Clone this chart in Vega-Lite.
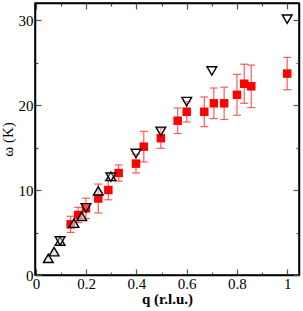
{
  "$schema": "https://vega.github.io/schema/vega-lite/v6.json",
  "autosize": "none",
  "width": 264,
  "height": 272,
  "padding": {"left": 35, "top": 3, "right": 4, "bottom": 36},
  "background": "white",
  "config": {
    "view": {"stroke": "black", "strokeWidth": 1.5},
    "axis": {
      "labelFont": "Liberation Serif",
      "titleFont": "Liberation Serif",
      "labelFontSize": 15,
      "titleFontSize": 15,
      "labelColor": "black",
      "titleColor": "black",
      "domainColor": "black",
      "domainWidth": 1.5,
      "tickColor": "#555",
      "tickWidth": 1.2,
      "grid": false
    }
  },
  "datasets": {
    "squares": [
      {"q": 0.138, "w": 5.96, "err": 0.95},
      {"q": 0.168, "w": 7.06, "err": 0.9},
      {"q": 0.199, "w": 7.84, "err": 1.2},
      {"q": 0.248, "w": 9.0, "err": 1.7},
      {"q": 0.288, "w": 10.0, "err": 1.15},
      {"q": 0.329, "w": 12.0, "err": 0.95},
      {"q": 0.398, "w": 13.1, "err": 1.1},
      {"q": 0.429, "w": 15.1, "err": 1.8},
      {"q": 0.497, "w": 16.1, "err": 1.2},
      {"q": 0.564, "w": 18.15, "err": 1.5},
      {"q": 0.6, "w": 19.2, "err": 1.2},
      {"q": 0.67, "w": 19.2, "err": 1.75},
      {"q": 0.708, "w": 20.2, "err": 1.8},
      {"q": 0.749, "w": 20.2, "err": 1.9},
      {"q": 0.8, "w": 21.2, "err": 2.4},
      {"q": 0.829, "w": 22.5, "err": 2.3},
      {"q": 0.857, "w": 22.2, "err": 2.5},
      {"q": 1.0, "w": 23.7, "err": 1.9}
    ],
    "up": [
      {"q": 0.049, "w": 1.96},
      {"q": 0.072, "w": 2.75},
      {"q": 0.096, "w": 4.0},
      {"q": 0.151, "w": 6.1},
      {"q": 0.182, "w": 6.9},
      {"q": 0.248, "w": 9.9},
      {"q": 0.298, "w": 11.6}
    ],
    "down": [
      {"q": 0.096, "w": 4.0},
      {"q": 0.199, "w": 7.9},
      {"q": 0.298, "w": 11.5},
      {"q": 0.398, "w": 14.3},
      {"q": 0.497, "w": 16.9},
      {"q": 0.6, "w": 20.4},
      {"q": 0.7, "w": 24.0},
      {"q": 1.0, "w": 30.1}
    ]
  },
  "resolve": {"axis": {"x": "independent", "y": "independent"}},
  "layer": [
    {
      "data": {"name": "squares"},
      "mark": {"type": "errorbar", "ticks": {"size": 8}, "color": "#ff4040", "opacity": 0.85, "thickness": 1.2},
      "encoding": {
        "x": {
          "field": "q", "type": "quantitative",
          "scale": {"domain": [-0.004, 1.047], "nice": false, "zero": false},
          "axis": {
            "orient": "bottom",
            "title": "q (r.l.u.)",
            "titleFontWeight": "bold",
            "titlePadding": 0,
            "values": [0, 0.1, 0.2, 0.3, 0.4, 0.5, 0.6, 0.7, 0.8, 0.9, 1.0],
            "format": "~g",
            "labelExpr": "round(datum.value*10) % 2 == 0 ? datum.label : ''",
            "labelFlush": false,
            "labelPadding": 7,
            "tickSize": {"condition": {"test": "round(datum.value*10) % 2 == 0", "value": -6}, "value": -3}
          }
        },
        "y": {
          "field": "w", "type": "quantitative",
          "scale": {"domain": [0, 32], "nice": false},
          "axis": {
            "orient": "left",
            "title": "ω (K)",
            "titleFontWeight": "normal",
            "titlePadding": 3,
            "values": [0, 5, 10, 15, 20, 25, 30],
            "labelExpr": "datum.value % 10 == 0 ? datum.label : ''",
            "labelFlush": false,
            "labelPadding": 8,
            "tickSize": {"condition": {"test": "datum.value % 10 == 0", "value": -6}, "value": -3}
          }
        },
        "yError": {"field": "err"}
      }
    },
    {
      "data": {"name": "squares"},
      "mark": {"type": "point", "shape": "square", "filled": true, "color": "#ff0000", "opacity": 1, "size": 72},
      "encoding": {
        "x": {"field": "q", "type": "quantitative", "scale": {"domain": [-0.004, 1.047], "nice": false, "zero": false}, "axis": null},
        "y": {"field": "w", "type": "quantitative", "scale": {"domain": [0, 32], "nice": false}, "axis": null}
      }
    },
    {
      "data": {"name": "up"},
      "mark": {"type": "point", "shape": "triangle-up", "filled": false, "fill": "#d8d8d8", "fillOpacity": 0.6, "stroke": "black", "strokeWidth": 1.4, "opacity": 1, "size": 95},
      "encoding": {
        "x": {"field": "q", "type": "quantitative", "scale": {"domain": [-0.004, 1.047], "nice": false, "zero": false}, "axis": null},
        "y": {"field": "w", "type": "quantitative", "scale": {"domain": [0, 32], "nice": false}, "axis": null}
      }
    },
    {
      "data": {"name": "down"},
      "mark": {"type": "point", "shape": "triangle-down", "filled": false, "fill": "white", "fillOpacity": 0.3, "stroke": "black", "strokeWidth": 1.4, "opacity": 1, "size": 95},
      "encoding": {
        "x": {
          "field": "q", "type": "quantitative",
          "scale": {"domain": [-0.004, 1.047], "nice": false, "zero": false},
          "axis": {
            "orient": "top", "title": null, "labels": false,
            "values": [0, 0.1, 0.2, 0.3, 0.4, 0.5, 0.6, 0.7, 0.8, 0.9, 1.0],
            "tickSize": {"condition": {"test": "round(datum.value*10) % 2 == 0", "value": -6}, "value": -3}
          }
        },
        "y": {
          "field": "w", "type": "quantitative",
          "scale": {"domain": [0, 32], "nice": false},
          "axis": {
            "orient": "right", "title": null, "labels": false,
            "values": [0, 5, 10, 15, 20, 25, 30],
            "tickSize": {"condition": {"test": "datum.value % 10 == 0", "value": -6}, "value": -3}
          }
        }
      }
    }
  ]
}
